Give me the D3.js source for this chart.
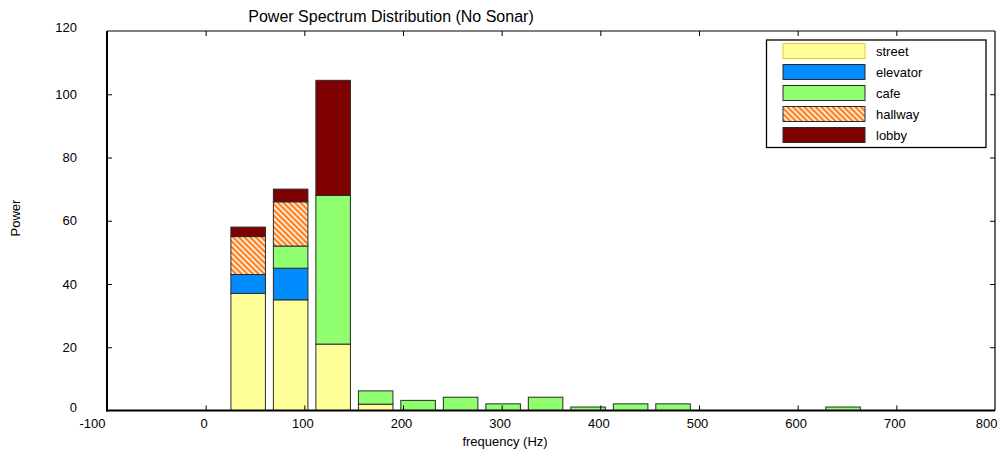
<html>
<head>
<meta charset="utf-8">
<script src="https://cdn.jsdelivr.net/npm/d3@7"></script>
<style>
  body { margin: 0; background: #fff; }
  text { font-family: "Liberation Sans", Arial, sans-serif; fill: #000; }
</style>
</head>
<body>
<svg width="1000" height="451"></svg>
<script>
// Data: FFT bin centres (Hz) and power per recording location
var freqs    = [43.07, 86.13, 129.2, 172.3, 215.3, 258.4, 301.5, 344.5, 387.6, 430.7, 473.7, 646.0];
var street   = [37, 35, 21, 2, 0, 0, 0, 0, 0, 0, 0, 0];
var elevator = [6, 10, 0, 0, 0, 0, 0, 0, 0, 0, 0, 0];
var cafe     = [0, 7, 47, 4.2, 3.2, 4.2, 2.1, 4.2, 1.1, 2.1, 2.1, 1.1];
var hallway  = [12, 14, 0, 0, 0, 0, 0, 0, 0, 0, 0, 0];
var lobby    = [3, 4, 36.4, 0, 0, 0, 0, 0, 0, 0, 0, 0];
var xTicks   = [-100, 0, 100, 200, 300, 400, 500, 600, 700, 800];
var yTicks   = [0, 20, 40, 60, 80, 100, 120];

var seriesNames = ["street", "elevator", "cafe", "hallway", "lobby"];
var seriesData = [street, elevator, cafe, hallway, lobby];
var colors = ["#ffff99", "#008cff", "#8fff70", "url(#hatch)", "#7f0000"];

var svg = d3.select("svg");
var mLeft = 107, mRight = 995, mTop = 31, mBottom = 410.5;
var barWidth = 35;

var x = d3.scaleLinear().domain([-100, 800]).range([mLeft, mRight]);
var y = d3.scaleLinear().domain([0, 120]).range([mBottom, mTop]);

// hatch pattern for hallway
var defs = svg.append("defs");
var pat = defs.append("pattern")
    .attr("id", "hatch")
    .attr("patternUnits", "userSpaceOnUse")
    .attr("width", 4).attr("height", 4)
    .attr("patternTransform", "rotate(45)");
pat.append("rect").attr("width", 4).attr("height", 4).attr("fill", "#ff7f1a");
pat.append("rect").attr("width", 4).attr("height", 1.6).attr("fill", "#fff");

// stack the series
var rows = freqs.map(function(f, i) {
    var r = { f: f };
    seriesNames.forEach(function(n, j) { r[n] = seriesData[j][i]; });
    return r;
});
var stacked = d3.stack().keys(seriesNames)(rows);

var bars = svg.append("g");
stacked.forEach(function(layer, j) {
    bars.selectAll(null)
        .data(layer.filter(function(d) { return d[1] - d[0] > 0; }))
        .enter().append("rect")
        .attr("x", function(d) { return x(d.data.f - barWidth / 2); })
        .attr("width", function(d) { return x(d.data.f + barWidth / 2) - x(d.data.f - barWidth / 2); })
        .attr("y", function(d) { return y(d[1]); })
        .attr("height", function(d) { return y(d[0]) - y(d[1]); })
        .attr("fill", colors[j])
        .attr("stroke", "#2a2a2a")
        .attr("stroke-width", 1);
});

// axes
var fmt = function(d) { return String(d); };
var xAxis = svg.append("g").attr("transform", "translate(0," + mBottom + ")")
    .call(d3.axisBottom(x).tickValues(xTicks).tickSize(-5).tickPadding(8).tickFormat(fmt));
var xTop = svg.append("g").attr("transform", "translate(0," + mTop + ")")
    .call(d3.axisTop(x).tickValues(xTicks.slice(1, -1)).tickSize(-5).tickFormat(""));
var yAxis = svg.append("g").attr("transform", "translate(" + mLeft + ",0)")
    .call(d3.axisLeft(y).tickValues(yTicks).tickSize(-5).tickPadding(30).tickFormat(fmt));
var yRight = svg.append("g").attr("transform", "translate(" + mRight + ",0)")
    .call(d3.axisRight(y).tickValues(yTicks.slice(1, -1)).tickSize(-5).tickFormat(""));

[xAxis, xTop, yAxis, yRight].forEach(function(a) {
    a.select(".domain").remove();
    a.selectAll(".tick line").attr("stroke", "#000");
    a.selectAll("text").attr("font-size", 13).attr("font-family", "Liberation Sans, Arial, sans-serif");
});
xAxis.selectAll("text").attr("dx", "-2");
xAxis.selectAll(".tick").filter(function(d) { return d === -100 || d === 800; }).select("line").remove();
xAxis.selectAll(".tick").filter(function(d) { return d === -100; }).select("text")
    .attr("text-anchor", "end").attr("dx", "-2");
xAxis.selectAll(".tick").filter(function(d) { return d === 800; }).select("text")
    .attr("text-anchor", "end").attr("dx", "2");
yAxis.selectAll(".tick").filter(function(d) { return d === 0 || d === 120; }).select("line").remove();
yAxis.selectAll(".tick").filter(function(d) { return d === 0; }).select("text").attr("dy", "0.05em");
yAxis.selectAll(".tick").filter(function(d) { return d === 120; }).select("text").attr("dy", "0em");

// frame: thick left/bottom, thin top/right
svg.append("line").attr("x1", mLeft).attr("x2", mRight).attr("y1", mTop).attr("y2", mTop).attr("stroke", "#000").attr("stroke-width", 1);
svg.append("line").attr("x1", mRight).attr("x2", mRight).attr("y1", mTop).attr("y2", mBottom).attr("stroke", "#000").attr("stroke-width", 1.2);
svg.append("line").attr("x1", mLeft).attr("x2", mLeft).attr("y1", mTop).attr("y2", mBottom + 1).attr("stroke", "#000").attr("stroke-width", 2);
svg.append("line").attr("x1", mLeft - 1).attr("x2", mRight).attr("y1", mBottom).attr("y2", mBottom).attr("stroke", "#000").attr("stroke-width", 2);

// titles
svg.append("text").attr("x", 391).attr("y", 22).attr("text-anchor", "middle")
    .attr("font-size", 16).text("Power Spectrum Distribution (No Sonar)");
svg.append("text").attr("x", 505).attr("y", 446).attr("text-anchor", "middle")
    .attr("font-size", 13).text("frequency (Hz)");
svg.append("text").attr("transform", "translate(20,218) rotate(-90)").attr("text-anchor", "middle")
    .attr("font-size", 13).text("Power");

// legend
var legend = svg.append("g");
legend.append("rect").attr("x", 766.5).attr("y", 40).attr("width", 219.5).attr("height", 107.5)
    .attr("fill", "#fff").attr("stroke", "#000").attr("stroke-width", 1.3);
var strokes = ["#f5c518", "#2a2a2a", "#2a2a2a", "#2a2a2a", "#2a2a2a"];
seriesNames.forEach(function(n, j) {
    var ly = 43.5 + j * 21;
    legend.append("rect").attr("x", 783).attr("y", ly).attr("width", 82).attr("height", 15)
        .attr("fill", colors[j]).attr("stroke", strokes[j]).attr("stroke-width", 1);
    legend.append("text").attr("x", 876).attr("y", ly + 12).attr("font-size", 13).text(n);
});
</script>
</body>
</html>
